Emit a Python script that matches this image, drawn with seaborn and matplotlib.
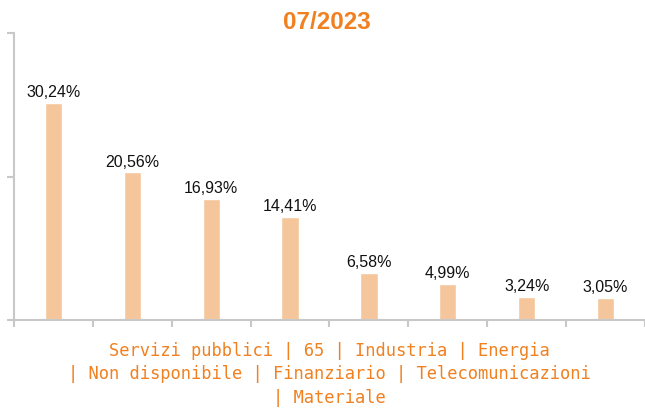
import matplotlib
matplotlib.use("Agg")
import matplotlib.pyplot as plt
import numpy as np
import pandas as pd
import seaborn as sns

# Data
sectors = ["Servizi pubblici", "65", "Industria", "Energia",
           "Non disponibile", "Finanziario", "Telecomunicazioni", "Materiale"]
weights = [30.24, 20.56, 16.93, 14.41, 6.58, 4.99, 3.24, 3.05]
title = "07/2023"

df = pd.DataFrame({"sector": sectors, "weight": weights})

sns.set_style("white")
plt.rcParams['font.family'] = ['Liberation Sans', 'DejaVu Sans']

fig = plt.figure(figsize=(6.45, 4.08), dpi=100)
ax = fig.add_axes([0.0217, 0.2157, 0.9783, 0.7034])

sns.barplot(data=df, x="sector", y="weight", color="#F5C69B",
            width=0.22, saturation=1, ax=ax)

# value labels
for i, v in enumerate(weights):
    ax.text(i, v + 0.4, f"{v:.2f}%".replace(".", ","), ha="center", va="bottom",
            fontsize=11.5, color="#111111")

ax.set_xlim(-0.5, len(sectors) - 0.5)
ax.set_ylim(0, 40)
ax.set_yticks([0, 20, 40])
ax.set_yticklabels([])
ax.set_xticks(np.arange(-0.5, len(sectors), 1.0))
ax.set_xticklabels([])
ax.set_ylabel("")

grey = "#c8c8c8"
for s in ["top", "right"]:
    ax.spines[s].set_visible(False)
for s in ["left", "bottom"]:
    ax.spines[s].set_color(grey)
    ax.spines[s].set_linewidth(1.5)
ax.tick_params(axis="both", length=5, width=1.5, color=grey, direction="out",
               left=True, bottom=True)

ax.set_xlabel("Servizi pubblici | 65 | Industria | Energia\n"
              "| Non disponibile | Finanziario | Telecomunicazioni\n"
              "| Materiale",
              family="DejaVu Sans Mono", fontsize=12.3, color="#F08020",
              linespacing=1.42, labelpad=7)

fig.suptitle(title, x=0.507, y=0.972, fontsize=17.5, fontweight="bold",
             color="#F08020")

fig.savefig("out.png", dpi=100)
